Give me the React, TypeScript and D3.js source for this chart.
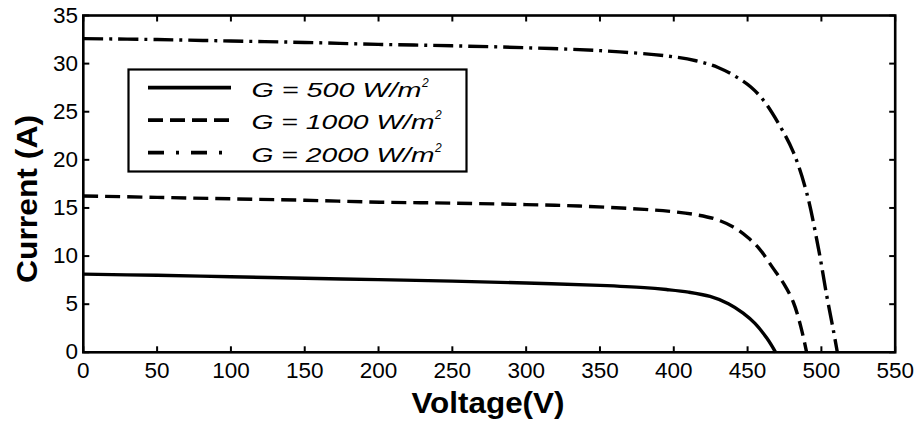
import React from "react";
import * as d3 from "d3";

const xTicks = [0, 50, 100, 150, 200, 250, 300, 350, 400, 450, 500, 550];
const yTicks = [0, 5, 10, 15, 20, 25, 30, 35];

const v500 = [0, 50, 100, 150, 200, 250, 300, 350, 380, 395, 410, 424.6, 437, 447, 455, 463, 469];
const i500 = [8.12, 8.0, 7.85, 7.7, 7.55, 7.4, 7.2, 6.95, 6.72, 6.52, 6.25, 5.8, 5.05, 4.07, 3.0, 1.48, 0];

const v1000 = [0, 50, 100, 150, 201, 250, 300, 336, 380, 400, 415, 428, 440, 450, 458, 467, 475, 481, 486, 490];
const i1000 = [16.25, 16.1, 15.95, 15.8, 15.6, 15.5, 15.35, 15.2, 14.85, 14.6, 14.3, 13.85, 13.05, 11.95, 10.75, 8.8, 7.0, 5.2, 2.7, 0];

const v2000 = [0, 50, 100, 150, 200, 250, 300, 350, 395, 415, 430, 442.6, 452, 460.7, 472, 481, 490, 498, 503.6, 508.1, 510.8];
const i2000 = [32.6, 32.5, 32.35, 32.2, 32.0, 31.85, 31.65, 31.35, 30.8, 30.3, 29.6, 28.6, 27.6, 26.2, 23.5, 20.8, 16.6, 10.8, 5.9, 2.3, 0];

const seriesLabels = ["500", "1000", "2000"];
const legendWidths = [170, 183, 183];
const dashes = ["none", "15 7", "20 6 3 6"];

export default function App() {
  const W = 917, H = 423;
  const m = { left: 83.3, right: 895.2, top: 15.5, bottom: 352.3 };
  const x = d3.scaleLinear().domain([0, 550]).range([m.left, m.right]);
  const y = d3.scaleLinear().domain([0, 35]).range([m.bottom, m.top]);
  const line = d3.line<[number, number]>().x(d => x(d[0])).y(d => y(d[1])).curve(d3.curveCatmullRom.alpha(0.5));
  const series = [
    v500.map((v, i) => [v, i500[i]] as [number, number]),
    v1000.map((v, i) => [v, i1000[i]] as [number, number]),
    v2000.map((v, i) => [v, i2000[i]] as [number, number]),
  ];
  const font = "'Liberation Sans', Arial, sans-serif";
  const tl = 6;
  return (
    <svg width={W} height={H} style={{ position: "absolute", left: 0, top: 0, background: "#fff" }}>
      <rect x={0} y={0} width={W} height={H} fill="#fff" />
      {series.map((s, k) => (
        <path key={k} d={line(s) || ""} fill="none" stroke="#000" strokeWidth={3.4}
          strokeDasharray={dashes[k]} />
      ))}
      {xTicks.map(t => (
        <g key={"x" + t}>
          <line x1={x(t)} x2={x(t)} y1={m.bottom} y2={m.bottom - tl} stroke="#000" strokeWidth={2} />
          <line x1={x(t)} x2={x(t)} y1={m.top} y2={m.top + tl} stroke="#000" strokeWidth={2} />
          <text x={x(t)} y={378} textAnchor="middle" fontFamily={font} fontSize={22.5}>{t}</text>
        </g>
      ))}
      {yTicks.map(t => (
        <g key={"y" + t}>
          <line x1={m.left} x2={m.left + tl} y1={y(t)} y2={y(t)} stroke="#000" strokeWidth={2} />
          <line x1={m.right} x2={m.right - tl} y1={y(t)} y2={y(t)} stroke="#000" strokeWidth={2} />
          <text x={78} y={y(t) + 7} textAnchor="end" fontFamily={font} fontSize={22.5}>{t}</text>
        </g>
      ))}
      <rect x={m.left} y={m.top} width={m.right - m.left} height={m.bottom - m.top} fill="none" stroke="#000" strokeWidth={2.6} />
      <text x={488} y={413} textAnchor="middle" fontFamily={font} fontSize={30} fontWeight="bold"
        textLength={153} lengthAdjust="spacingAndGlyphs">Voltage(V)</text>
      <text transform={`translate(37,199) rotate(-90)`} textAnchor="middle" fontFamily={font} fontSize={30} fontWeight="bold"
        textLength={168} lengthAdjust="spacingAndGlyphs">Current (A)</text>
      <rect x={128.5} y={69.5} width={338} height={102} fill="#fff" stroke="#000" strokeWidth={2.2} />
      {seriesLabels.map((lab, k) => {
        const yy = 87.7 + k * 32.5;
        return (
          <g key={lab}>
            <line x1={148} x2={231} y1={yy} y2={yy} stroke="#000" strokeWidth={3.8} strokeDasharray={k === 2 ? "16 12 3 12" : dashes[k]} />
            <text x={251.5} y={yy + 9} fontFamily={font} fontSize={21} fontStyle="italic"
              textLength={legendWidths[k]} lengthAdjust="spacingAndGlyphs">{`G = ${lab} W/m`}</text>
            <text x={251.5 + legendWidths[k] + 0.5} y={yy - 1} fontFamily={font} fontSize={12} fontStyle="italic">2</text>
          </g>
        );
      })}
    </svg>
  );
}
